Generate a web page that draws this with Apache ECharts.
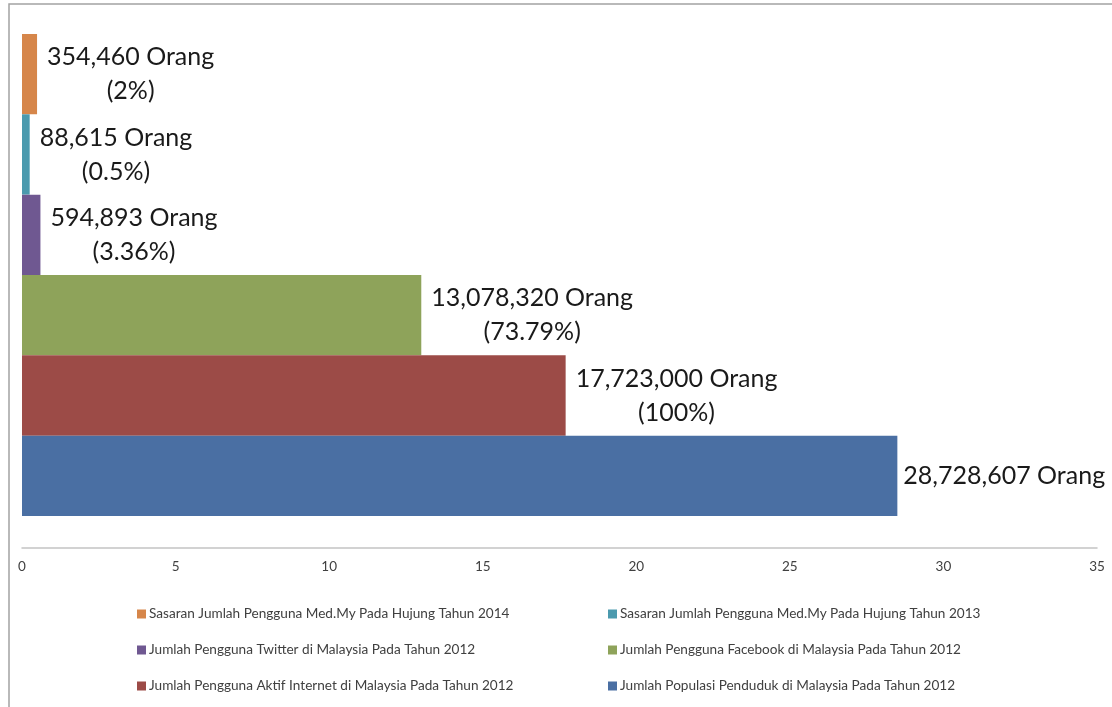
<!DOCTYPE html>
<html>
<head>
<meta charset="utf-8">
<script src="https://cdn.jsdelivr.net/npm/echarts@6/dist/echarts.min.js"></script>
<style>
html,body{margin:0;padding:0;background:#fff;}
#c{width:1112px;height:707px;}
</style>
</head>
<body>
<div id="c"></div>
<script>
// Series (top to bottom in the chart)
var seriesNames = [
  'Sasaran Jumlah Pengguna Med.My Pada Hujung Tahun 2014',
  'Sasaran Jumlah Pengguna Med.My Pada Hujung Tahun 2013',
  'Jumlah Pengguna Twitter di Malaysia Pada Tahun 2012',
  'Jumlah Pengguna Facebook di Malaysia Pada Tahun 2012',
  'Jumlah Pengguna Aktif Internet di Malaysia Pada Tahun 2012',
  'Jumlah Populasi Penduduk di Malaysia Pada Tahun 2012'
];
// bar lengths (millions)
var seriesValues = [0.49, 0.25, 0.6, 13.0, 17.7, 28.5];
var valueLabels = ['354,460 Orang', '88,615 Orang', '594,893 Orang', '13,078,320 Orang', '17,723,000 Orang', '28,728,607 Orang'];
var percentLabels = ['(2%)', '(0.5%)', '(3.36%)', '(73.79%)', '(100%)', ''];
var seriesColors = ['#d6864a', '#4b9aae', '#6f5891', '#8ea35a', '#9c4b47', '#4a6fa3'];
var xTicks = [0, 5, 10, 15, 20, 25, 30, 35];

var FONT = 'Lato';
var series = seriesNames.map(function (name, i) {
  return {
    name: name,
    type: 'bar',
    barGap: '0%',
    barCategoryGap: '11.7%',
    data: [seriesValues[i]],
    itemStyle: { color: seriesColors[i] },
    label: {
      show: true,
      position: 'right',
      distance: percentLabels[i] ? 10 : 6,
      formatter: function () {
        var s = '{c|' + valueLabels[i] + '}';
        if (percentLabels[i]) s += '\n{c|' + percentLabels[i] + '}';
        return s;
      },
      rich: {
        c: { align: 'center', fontFamily: FONT, fontSize: 25, lineHeight: 34, color: '#1a1a1a' }
      }
    }
  };
});

var chart = echarts.init(document.getElementById('c'), null, { renderer: 'canvas' });
chart.setOption({
  backgroundColor: '#fff',
  animation: false,
  graphic: [{
    type: 'rect',
    shape: { x: 9, y: 4, width: 1300, height: 900 },
    style: { fill: 'none', stroke: '#a3a3a3', lineWidth: 1.5 },
    z: 100
  }],
  grid: { left: 22, right: 15, top: 2, bottom: 159, containLabel: false },
  xAxis: {
    type: 'value',
    min: xTicks[0],
    max: xTicks[xTicks.length - 1],
    interval: 5,
    axisLine: { show: true, lineStyle: { color: '#c3c3c3', width: 1.5 } },
    axisTick: { show: false },
    splitLine: { show: false },
    axisLabel: { margin: 12, fontFamily: FONT, fontSize: 13.5, color: '#404040' }
  },
  yAxis: {
    type: 'category',
    data: [''],
    show: false
  },
  legend: [{
    data: [seriesNames[0], seriesNames[2], seriesNames[4]],
    orient: 'vertical',
    left: 137, top: 607, padding: 0,
    itemWidth: 9, itemHeight: 9, itemGap: 22,
    icon: 'rect',
    textStyle: { fontFamily: FONT, fontSize: 13.6, color: '#404040', padding: [0, 0, 0, -2] }
  }, {
    data: [seriesNames[1], seriesNames[3], seriesNames[5]],
    orient: 'vertical',
    left: 608, top: 607, padding: 0,
    itemWidth: 9, itemHeight: 9, itemGap: 22,
    icon: 'rect',
    textStyle: { fontFamily: FONT, fontSize: 13.6, color: '#404040', padding: [0, 0, 0, -2] }
  }],
  series: series
});
</script>
</body>
</html>
